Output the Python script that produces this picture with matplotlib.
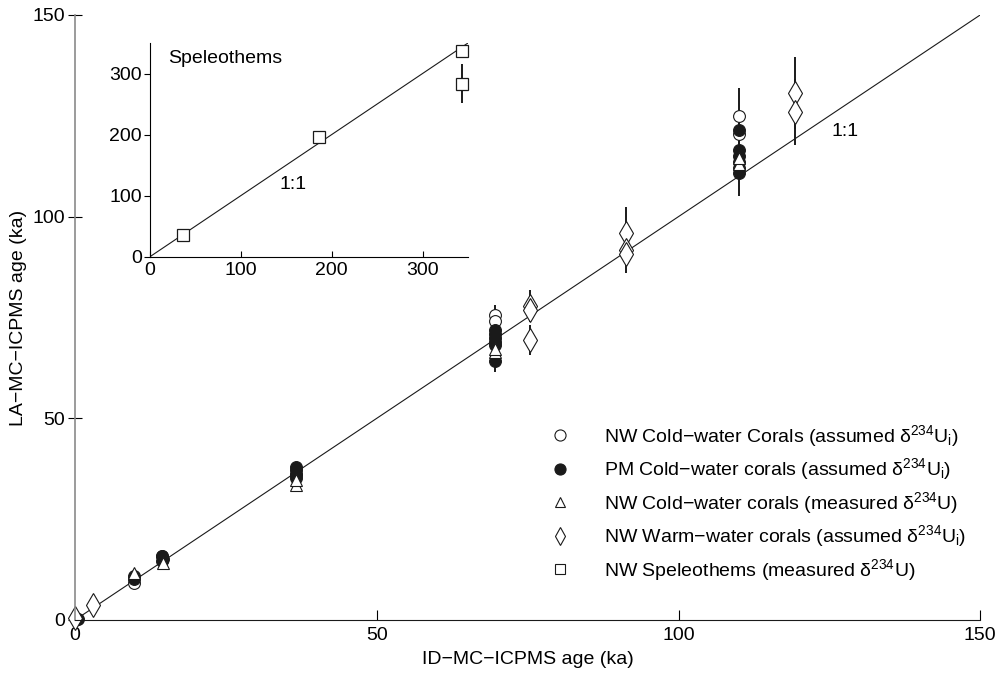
import numpy as np
import matplotlib.pyplot as plt
from matplotlib.lines import Line2D

plt.rcParams['font.family'] = ['Liberation Sans', 'DejaVu Sans']
plt.rcParams['mathtext.default'] = 'regular'
plt.rcParams['font.size'] = 14

# NW cold-water corals, assumed d234U_i (open circles)
nw_cold_x = [0.3, 9.7, 14.4, 36.6, 69.6, 69.6, 110.0, 110.0]
nw_cold_y = [0.3, 9.2, 15.9, 36.0, 75.6, 74.0, 125.0, 120.5]
nw_cold_err = [0.2, 0.4, 0.5, 0.8, 2.5, 1.5, 6.8, 3.0]

# PM cold-water corals, assumed d234U_i (filled circles)
pm_cold_x = [0.5, 9.7, 9.8, 14.4, 14.5, 14.4, 36.6, 36.6, 36.6, 36.6,
             69.6, 69.6, 69.6, 69.6, 69.6, 69.6,
             110.0, 110.0, 110.0, 110.0, 110.0, 110.0]
pm_cold_y = [0.2, 10.2, 10.8, 14.6, 15.2, 15.8, 35.2, 36.2, 37.2, 38.0,
             72.0, 71.0, 70.0, 69.0, 68.2, 64.2,
             121.5, 116.5, 115.0, 113.5, 112.0, 110.8]
pm_cold_err = [0.2, 0.4, 0.4, 0.5, 0.5, 0.5, 0.8, 0.8, 0.8, 0.8,
               1.5, 1.5, 1.5, 1.5, 1.5, 2.6,
               3.0, 3.0, 3.0, 3.0, 3.0, 5.8]

# NW cold-water corals, measured d234U (triangles)
meas_x = [9.8, 14.5, 36.6, 36.6, 69.6, 69.6, 110.0, 110.0]
meas_y = [11.6, 14.0, 33.5, 34.8, 66.5, 67.2, 113.0, 114.5]
meas_err = [0.4, 0.5, 0.8, 0.8, 1.5, 1.5, 3.0, 3.0]

# NW warm-water corals, assumed d234U_i (diamonds)
warm_x = [0.0, 3.0, 75.4, 75.4, 75.4, 91.3, 91.3, 91.3, 119.3, 119.3]
warm_y = [0.4, 3.7, 77.9, 76.8, 69.4, 95.9, 91.7, 90.8, 130.6, 126.0]
warm_err = [0.2, 0.3, 4.0, 2.0, 3.7, 6.4, 3.0, 4.8, 9.0, 8.2]

# NW speleothems, measured d234U (squares, inset only)
spel_x = [36, 186, 343, 343]
spel_y = [36, 196, 337, 283.5]
spel_err = [2, 6, 8, 32]

labels = [
    'NW Cold\u2212water Corals (assumed δ$^{234}$U$_{i}$)',
    'PM Cold\u2212water corals (assumed δ$^{234}$U$_{i}$)',
    'NW Cold\u2212water corals (measured δ$^{234}$U)',
    'NW Warm\u2212water corals (assumed δ$^{234}$U$_{i}$)',
    'NW Speleothems (measured δ$^{234}$U)',
]

ink = '#1a1a1a'

fig = plt.figure(figsize=(9.98, 6.73), dpi=100)
ax = fig.add_axes([0.0752, 0.0788, 0.907, 0.899])

ax.plot([0, 150], [0, 150], color=ink, lw=0.8, zorder=1)

eb = dict(ecolor=ink, elinewidth=1.4, capsize=0, ls='none', zorder=2)
series = [
    (nw_cold_x, nw_cold_y, nw_cold_err, 'o', 8.5, 'white'),
    (pm_cold_x, pm_cold_y, pm_cold_err, 'o', 8.5, ink),
    (meas_x, meas_y, meas_err, '^', 8.5, 'white'),
    (warm_x, warm_y, warm_err, 'd', 12.5, 'white'),
]
for xs, ys, errs, mk, size, face in series:
    c = ax.errorbar(xs, ys, yerr=errs, marker=mk, ms=size,
                    mfc=face, mec=ink, mew=0.8, **eb)
    for art in c.get_children():
        art.set_clip_on(False)

ax.text(125.3, 121, '1:1', va='center')

ax.set_xlim(0, 150)
ax.set_ylim(0, 150)
ax.set_xticks([0, 50, 100, 150])
ax.set_yticks([0, 50, 100, 150])
ax.spines['top'].set_visible(False)
ax.spines['right'].set_visible(False)
ax.spines['left'].set_color('#8a8a8a')
ax.spines['left'].set_linewidth(1.2)
ax.spines['bottom'].set_color(ink)
ax.tick_params(axis='x', direction='in', length=7, width=0.8, pad=5)
ax.tick_params(axis='y', direction='inout', length=10, width=0.8, pad=2)
ax.set_xlabel('ID\u2212MC\u2212ICPMS age (ka)', labelpad=5)
ax.set_ylabel('LA\u2212MC\u2212ICPMS age (ka)', labelpad=4)

handles = [
    Line2D([], [], ls='none', marker='o', ms=8, mfc='white', mec=ink, mew=0.8),
    Line2D([], [], ls='none', marker='o', ms=8, mfc=ink, mec=ink, mew=0.8),
    Line2D([], [], ls='none', marker='^', ms=7.5, mfc='white', mec=ink, mew=0.8),
    Line2D([], [], ls='none', marker='d', ms=9, mfc='white', mec=ink, mew=0.8),
    Line2D([], [], ls='none', marker='s', ms=6.5, mfc='white', mec=ink, mew=0.8),
]
ax.legend(handles, labels, loc='lower right', bbox_to_anchor=(0.997, 0.042),
          frameon=False, handlelength=1.0, handletextpad=1.75,
          labelspacing=0.39, borderaxespad=0.2)

# inset: speleothems
ins = fig.add_axes([0.1503, 0.6186, 0.3186, 0.3175])
ins.plot([0, 350], [0, 350], color=ink, lw=0.8, zorder=1)
c = ins.errorbar(spel_x, spel_y, yerr=spel_err, marker='s', ms=9,
                 mfc='white', mec=ink, mew=0.9, **eb)
for art in c.get_children():
    art.set_clip_on(False)
ins.text(20, 325, 'Speleothems', va='center')
ins.text(143, 118, '1:1', va='center')
ins.set_xlim(0, 350)
ins.set_ylim(0, 350)
ins.set_xticks([0, 100, 200, 300])
ins.set_yticks([0, 100, 200, 300])
ins.spines['top'].set_visible(False)
ins.spines['right'].set_visible(False)
ins.tick_params(axis='x', direction='in', length=4, width=0.8, pad=4)
ins.tick_params(axis='y', direction='out', length=4, width=0.8, pad=2)
ins.patch.set_alpha(0)

fig.savefig('out.png', dpi=100)
